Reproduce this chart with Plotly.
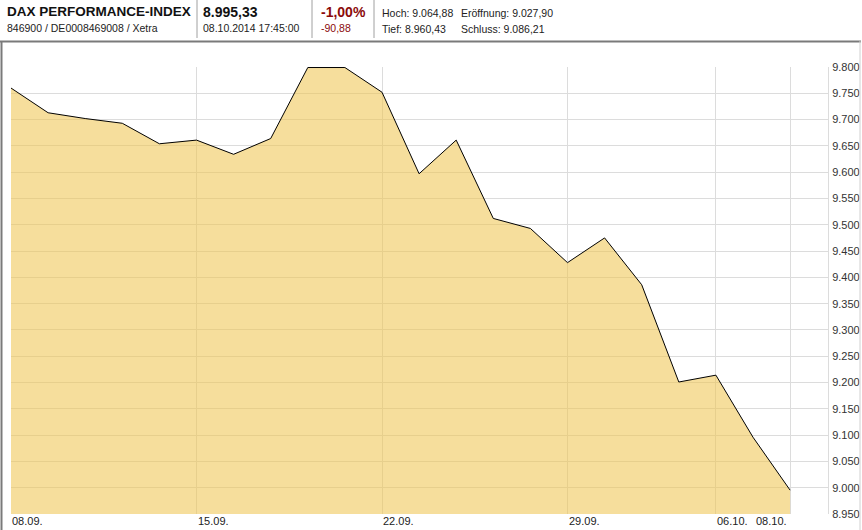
import plotly.graph_objects as go

dates = ["08.09.", "09.09.", "10.09.", "11.09.", "12.09.", "15.09.", "16.09.", "17.09.",
         "18.09.", "19.09.", "22.09.", "23.09.", "24.09.", "25.09.", "26.09.", "29.09.",
         "30.09.", "01.10.", "02.10.", "06.10.", "07.10.", "08.10."]
closes = [9760, 9713, 9702, 9693, 9654, 9661, 9634, 9664, 9799, 9799, 9752, 9597,
          9661, 9512, 9493, 9428, 9475, 9386, 9201, 9214, 9096, 8995.33]
tick_dates = ["08.09.", "15.09.", "22.09.", "29.09.", "06.10.", "08.10."]
y_ticks = [8950, 9000, 9050, 9100, 9150, 9200, 9250, 9300, 9350, 9400, 9450,
           9500, 9550, 9600, 9650, 9700, 9750, 9800]

title = "DAX PERFORMANCE-INDEX"
subtitle = "846900 / DE0008469008 / Xetra"
last_price = "8.995,33"
timestamp = "08.10.2014 17:45:00"
change_pct = "-1,00%"
change_abs = "-90,88"
stats_top = ["Hoch: 9.064,88", "Eröffnung: 9.027,90"]
stats_bottom = ["Tief: 8.960,43", "Schluss: 9.086,21"]

W, H = 862, 530
L, R, T, B = 11, 828, 67, 514


def px(x):
    return (x - L) / (R - L)


def py(y):
    return (B - y) / (B - T)


xs = list(range(len(dates)))
tickpos = [dates.index(d) for d in tick_dates]

fig = go.Figure()
fig.add_trace(go.Scatter(
    x=xs, y=closes, mode="lines", fill="tozeroy",
    fillcolor="rgba(240,198,84,0.58)",
    line=dict(color="#000000", width=1),
    hoverinfo="skip", showlegend=False,
))

FAM = "Liberation Sans, Arial, sans-serif"
font_small = dict(family=FAM, size=11, color="#222")
annotations = []
# x labels
for i, (pos, lab) in enumerate(zip(tickpos, tick_dates)):
    last = i == len(tickpos) - 1
    annotations.append(dict(
        x=pos, y=py(521), xref="x", yref="paper", text=lab, showarrow=False,
        xanchor="right" if last else "left", yanchor="middle",
        xshift=-1, font=font_small,
    ))

# header
hdr = [
    (5, 12, title, dict(family=FAM, size=13.5, color="#111"), True),
    (5, 28, subtitle, dict(family=FAM, size=10.5, color="#222"), False),
    (201, 12, last_price, dict(family=FAM, size=14, color="#111"), True),
    (201, 28, timestamp, dict(family=FAM, size=10.5, color="#222"), False),
    (319, 12, change_pct, dict(family=FAM, size=14, color="#8b0a0a"), True),
    (319, 28, change_abs, dict(family=FAM, size=10.5, color="#8b0a0a"), False),
    (380, 13, stats_top[0], dict(family=FAM, size=10.5, color="#222"), False),
    (459, 13, stats_top[1], dict(family=FAM, size=10.5, color="#222"), False),
    (380, 29, stats_bottom[0], dict(family=FAM, size=10.5, color="#222"), False),
    (459, 29, stats_bottom[1], dict(family=FAM, size=10.5, color="#222"), False),
]
for x0, y0, txt, f, bold in hdr:
    annotations.append(dict(
        x=px(x0), y=py(y0), xref="paper", yref="paper",
        text=f"<b>{txt}</b>" if bold else txt, showarrow=False,
        xanchor="left", yanchor="middle", font=f,
    ))

shapes = []
for sx in (197, 312, 374):
    shapes.append(dict(type="line", xref="paper", yref="paper",
                       x0=px(sx), x1=px(sx), y0=py(0), y1=py(38),
                       line=dict(color="#a0a0a0", width=1)))
# frame
shapes.append(dict(type="line", xref="paper", yref="paper",
                   x0=px(0), x1=px(861), y0=py(41.5), y1=py(41.5),
                   line=dict(color="#7a7a7a", width=2)))
shapes.append(dict(type="line", xref="paper", yref="paper",
                   x0=px(1.5), x1=px(1.5), y0=py(41), y1=py(530),
                   line=dict(color="#7a7a7a", width=2)))
shapes.append(dict(type="line", xref="paper", yref="paper",
                   x0=px(860), x1=px(860), y0=py(41), y1=py(530),
                   line=dict(color="#d0d0d0", width=1)))

fig.update_layout(
    width=W, height=H,
    margin=dict(l=L, r=W - R, t=T, b=H - B, pad=0, autoexpand=False),
    paper_bgcolor="white", plot_bgcolor="white",
    separators=",.",
    showlegend=False,
    annotations=annotations,
    shapes=shapes,
    xaxis=dict(
        range=[0, (R - L) / 37.1], tickvals=tickpos, showticklabels=False,
        showgrid=True, gridcolor="#dcdcdc", gridwidth=1, automargin=False,
        zeroline=False, showline=False, ticks="", fixedrange=True,
    ),
    yaxis=dict(
        range=[8950, 9800], side="right", tickvals=y_ticks, tickformat=",d",
        showgrid=True, gridcolor="#dcdcdc", gridwidth=1, automargin=False,
        zeroline=False, showline=True, linecolor="#dcdcdc", linewidth=1,
        ticks="", ticklabelstandoff=1,
        tickfont=dict(family=FAM, size=11, color="#333"),
        fixedrange=True,
    ),
)

fig.write_html("out.html", config={"displayModeBar": False},
               post_script="document.body.style.margin='0';document.body.style.overflow='hidden';")
